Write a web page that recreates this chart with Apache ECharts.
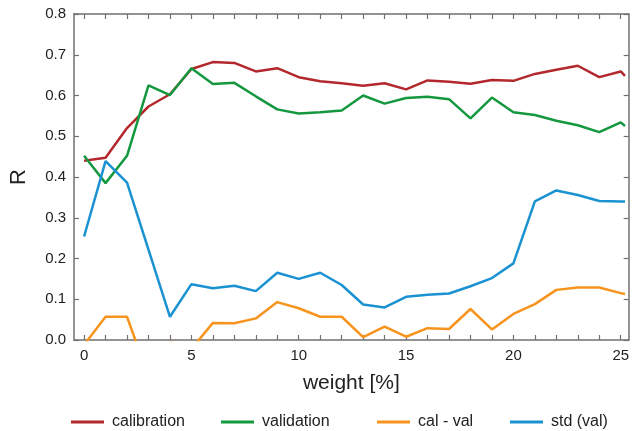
<!DOCTYPE html>
<html>
<head>
<meta charset="utf-8">
<script src="https://cdn.jsdelivr.net/npm/echarts@6/dist/echarts.min.js"></script>
<style>
  html, body { margin: 0; padding: 0; background: #fff; }
  #chart { width: 632px; height: 431px; }
</style>
</head>
<body>
<div id="chart"></div>
<script>
// weight [%] (last point sits just past 25)
var weights = [0,1,2,3,4,5,6,7,8,9,10,11,12,13,14,15,16,17,18,19,20,21,22,23,24,25,25.2];

var calibration = [0.440,0.447,0.520,0.573,0.603,0.665,0.682,0.680,0.659,0.667,0.645,0.635,0.630,0.624,0.630,0.615,0.637,0.634,0.629,0.638,0.636,0.653,0.663,0.673,0.645,0.659,0.648];
var validation  = [0.452,0.385,0.452,0.625,0.601,0.667,0.628,0.631,0.598,0.566,0.556,0.559,0.563,0.600,0.580,0.594,0.597,0.591,0.544,0.595,0.559,0.552,0.538,0.527,0.510,0.534,0.525];
var calMinusVal = [-0.012,0.057,0.057,-0.090,-0.005,-0.022,0.042,0.041,0.053,0.093,0.078,0.057,0.057,0.007,0.033,0.008,0.029,0.027,0.076,0.026,0.064,0.088,0.123,0.129,0.129,0.115,0.113];
var stdVal      = [0.254,0.439,0.386,0.222,0.057,0.137,0.127,0.133,0.120,0.165,0.150,0.165,0.135,0.087,0.080,0.106,0.111,0.114,0.132,0.152,0.188,0.340,0.367,0.356,0.341,0.340,0.340];

var xTicks = [0,1,2,3,4,5,6,7,8,9,10,11,12,13,14,15,16,17,18,19,20,21,22,23,24,25];
var xLabels = [0,5,10,15,20,25];

var names = ['calibration', 'validation', 'cal - val', 'std (val)'];
var colors = ['#b3282d', '#14983f', '#f7941e', '#1a92d2'];
var legendLeft = [66, 216, 372, 505];

var font = 'Liberation Sans, Arial, sans-serif';
var axisColor = '#707070';

function pairs(ys) {
  return weights.map(function (w, i) { return [w, ys[i]]; });
}

var chart = echarts.init(document.getElementById('chart'));

var lineData = [calibration, validation, calMinusVal, stdVal];

var option = {
  animation: false,
  backgroundColor: '#ffffff',
  textStyle: { fontFamily: font, color: '#222' },
  grid: { left: 68.7, top: 14, width: 560.3, height: 326 },
  legend: names.map(function (n, i) {
    return {
      data: [n],
      left: legendLeft[i],
      top: 409,
      icon: 'rect',
      itemWidth: 33,
      itemHeight: 3,
      textStyle: { fontFamily: font, fontSize: 16, color: '#222', padding: [0, 0, 0, 3] },
      selectedMode: false
    };
  }),
  xAxis: [
    {
      type: 'value',
      min: -0.47,
      max: 25.37,
      position: 'bottom',
      name: 'weight [%]',
      nameLocation: 'middle',
      nameGap: 33,
      nameTextStyle: { fontFamily: font, fontSize: 21, color: '#222' },
      axisLine: { show: true, onZero: false, lineStyle: { color: axisColor, width: 1.5 } },
      axisTick: { show: true, inside: true, length: 5, customValues: xTicks, lineStyle: { color: axisColor, width: 1.2 } },
      axisLabel: { customValues: xLabels, fontFamily: font, fontSize: 15, color: '#222', margin: 8 },
      splitLine: { show: false }
    },
    {
      type: 'value',
      min: -0.47,
      max: 25.37,
      position: 'top',
      axisLine: { show: true, onZero: false, lineStyle: { color: axisColor, width: 1.5 } },
      axisTick: { show: true, inside: true, length: 5, customValues: xTicks, lineStyle: { color: axisColor, width: 1.2 } },
      axisLabel: { show: false },
      splitLine: { show: false }
    }
  ],
  yAxis: [
    {
      type: 'value',
      min: 0,
      max: 0.8,
      interval: 0.1,
      position: 'left',
      name: 'R',
      nameLocation: 'middle',
      nameRotate: 90,
      nameGap: 44,
      nameTextStyle: { fontFamily: font, fontSize: 22, color: '#222' },
      axisLine: { show: true, onZero: false, lineStyle: { color: axisColor, width: 1.5 } },
      axisTick: { show: true, inside: true, length: 5, lineStyle: { color: axisColor, width: 1.2 } },
      axisLabel: {
        fontFamily: font, fontSize: 15, color: '#222', margin: 8,
        formatter: function (v) { return v.toFixed(1); }
      },
      splitLine: { show: false }
    },
    {
      type: 'value',
      min: 0,
      max: 0.8,
      interval: 0.1,
      position: 'right',
      axisLine: { show: true, onZero: false, lineStyle: { color: axisColor, width: 1.5 } },
      axisTick: { show: true, inside: true, length: 5, lineStyle: { color: axisColor, width: 1.2 } },
      axisLabel: { show: false },
      splitLine: { show: false }
    }
  ],
  series: names.map(function (n, i) {
    return {
      name: n,
      type: 'line',
      xAxisIndex: 0,
      yAxisIndex: 0,
      data: pairs(lineData[i]),
      showSymbol: false,
      clip: true,
      color: colors[i],
      lineStyle: { width: 2.5, color: colors[i] },
      itemStyle: { color: colors[i] }
    };
  })
};

chart.setOption(option);
</script>
</body>
</html>
